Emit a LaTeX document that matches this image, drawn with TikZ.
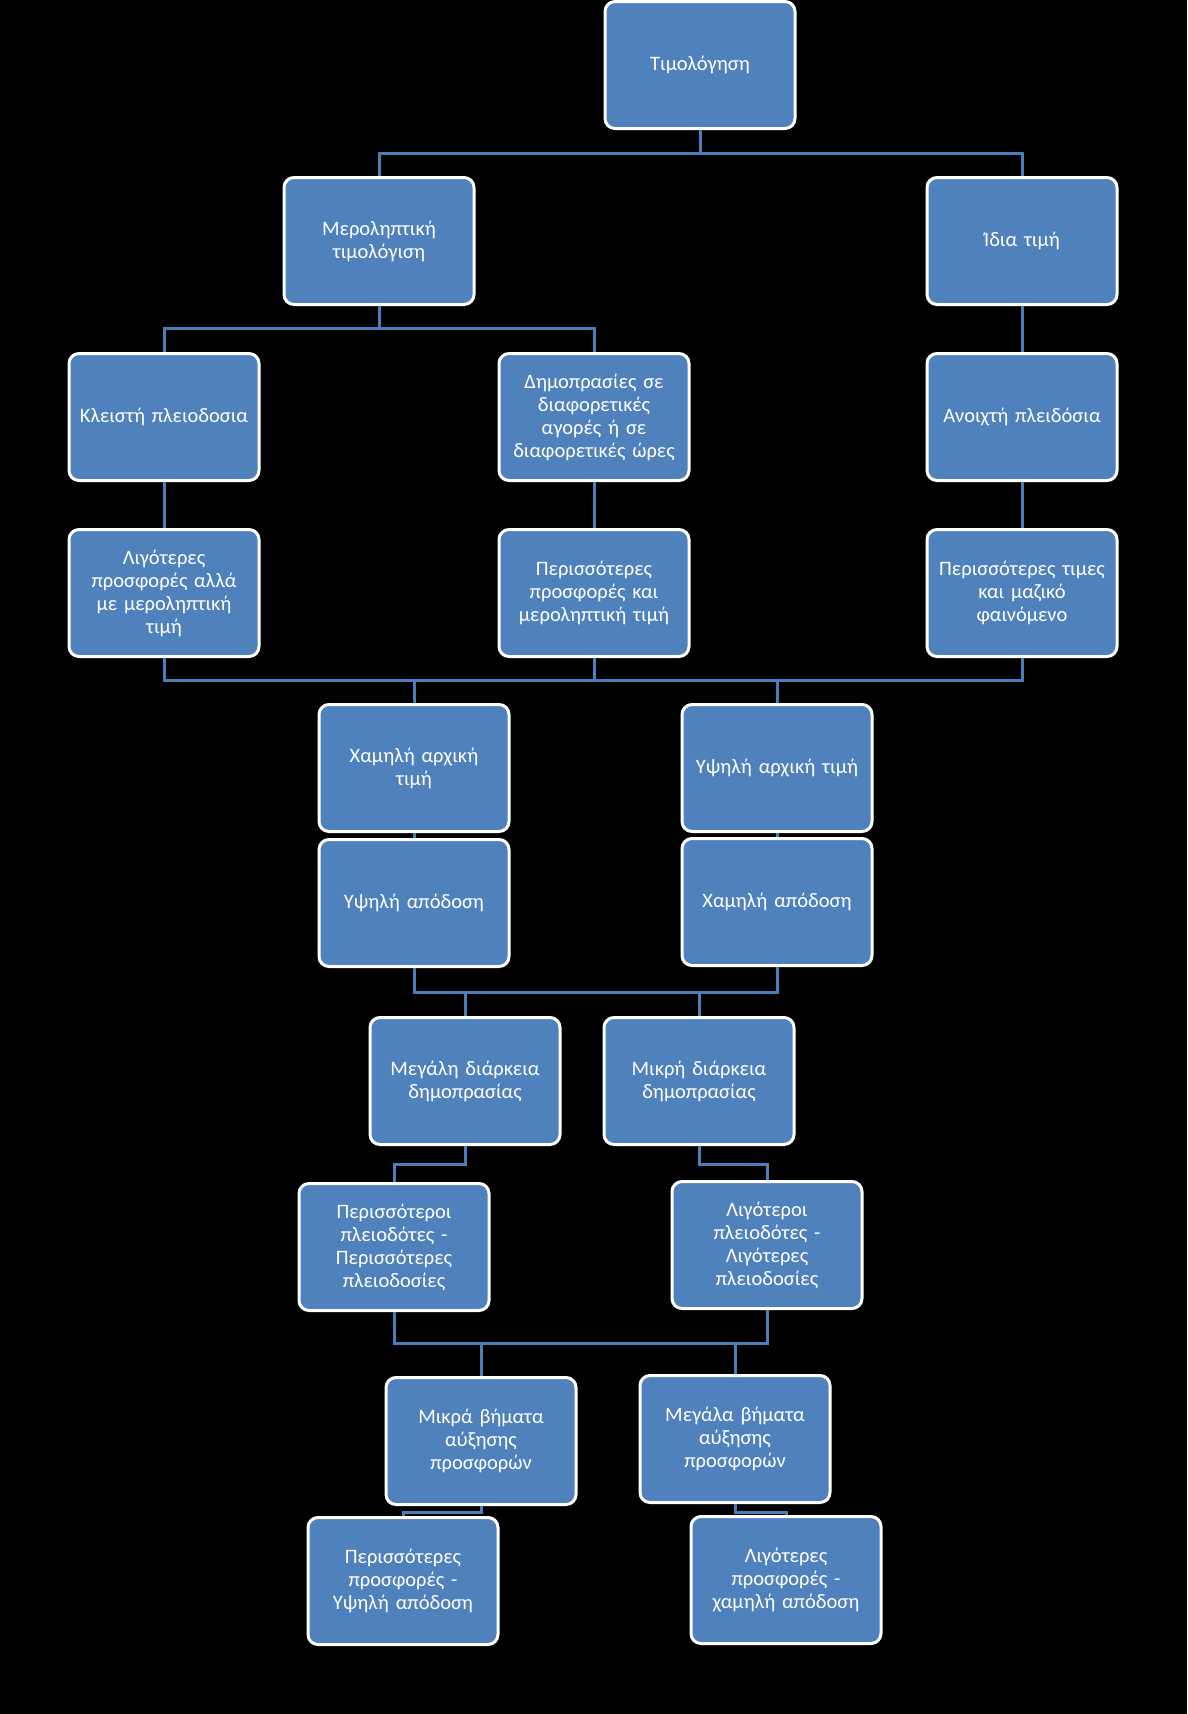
\documentclass[tikz,border=0pt]{standalone}
\usepackage{fontspec}
\setmainfont{Carlito}
\usetikzlibrary{positioning}

\definecolor{boxblue}{HTML}{4F81BD}
\definecolor{linkblue}{HTML}{4A7EBB}

\tikzset{
  box/.style={draw=white, line width=3pt, fill=boxblue, rounded corners=10pt,
    minimum width=190pt, minimum height=127pt, text width=182pt, align=center,
    text=white, font=\fontsize{20.5}{23}\selectfont, inner sep=2pt},
  link/.style={draw=linkblue, line width=3pt}
}

\begin{document}
\begin{tikzpicture}[x=1pt,y=-1pt]
\fill[black] (0,0) rectangle (1187,1714);
\useasboundingbox (0,0) rectangle (1187,1714);

\node[box] (tim) at (700,65) {Τιμολόγηση};
\node[box] (mer) at (379,241) {Μεροληπτική\\τιμολόγιση};
\node[box] (idia) at (1022,241) {Ίδια τιμή};
\node[box] (kleis) at (164,417) {Κλειστή πλειοδοσια};
\node[box] (dimo) at (594,417) {Δημοπρασίες σε\\διαφορετικές\\αγορές ή σε\\διαφορετικές ώρες};
\node[box] (anoix) at (1022,417) {Ανοιχτή πλειδόσια};
\node[box] (ligprosf) at (164,593) {Λιγότερες\\προσφορές αλλά\\με μεροληπτική\\τιμή};
\node[box] (perprosf) at (594,593) {Περισσότερες\\προσφορές και\\μεροληπτική τιμή};
\node[box] (pertimes) at (1022,593) {Περισσότερες τιμες\\και μαζικό\\φαινόμενο};
\node[box] (xamarx) at (414,768) {Χαμηλή αρχική\\τιμή};
\node[box] (ypsarx) at (777,768) {Υψηλή αρχική τιμή};
\node[box] (ypsapod) at (414,903) {Υψηλή απόδοση};
\node[box] (xamapod) at (777,902) {Χαμηλή απόδοση};
\node[box] (megdiark) at (465,1081) {Μεγάλη διάρκεια\\δημοπρασίας};
\node[box] (mikdiark) at (699,1081) {Μικρή διάρκεια\\δημοπρασίας};
\node[box] (perpleio) at (394,1247) {Περισσότεροι\\πλειοδότες -\\Περισσότερες\\πλειοδοσίες};
\node[box] (ligpleio) at (767,1245) {Λιγότεροι\\πλειοδότες -\\Λιγότερες\\πλειοδοσίες};
\node[box] (mikbim) at (481,1441) {Μικρά βήματα\\αύξησης\\προσφορών};
\node[box] (megbim) at (735,1439) {Μεγάλα βήματα\\αύξησης\\προσφορών};
\node[box] (perfin) at (403,1581) {Περισσότερες\\προσφορές -\\Υψηλή απόδοση};
\node[box] (ligfin) at (786,1580) {Λιγότερες\\προσφορές -\\χαμηλή απόδοση};

% junctions
\coordinate (j1) at (700,153);
\coordinate (j2) at (379,328);
\coordinate (j3) at (594,680);
\coordinate (j4) at (600,992);
\coordinate (j5) at (465,1164);
\coordinate (j6) at (699,1164);
\coordinate (j7) at (600,1343);
\coordinate (j8) at (481,1512);
\coordinate (j9) at (735,1512);

\path[link] (tim.south) -- (j1);
\path[link] (mer.north) |- (j1) -| (idia.north);
\path[link] (mer.south) -- (j2);
\path[link] (kleis.north) |- (j2) -| (dimo.north);
\path[link] (idia.south) -- (anoix.north);
\path[link] (kleis.south) -- (ligprosf.north);
\path[link] (dimo.south) -- (perprosf.north);
\path[link] (anoix.south) -- (pertimes.north);
\path[link] (ligprosf.south) |- (j3) -| (pertimes.south);
\path[link] (perprosf.south) -- (j3);
\path[link] (xamarx.north) |- (j3);
\path[link] (ypsarx.north) |- (j3);
\path[link] (xamarx.south) -- (ypsapod.north);
\path[link] (ypsarx.south) -- (xamapod.north);
\path[link] (ypsapod.south) |- (j4) -| (xamapod.south);
\path[link] (megdiark.north) |- (j4);
\path[link] (mikdiark.north) |- (j4);
\path[link] (megdiark.south) -- (j5) -| (perpleio.north);
\path[link] (mikdiark.south) -- (j6) -| (ligpleio.north);
\path[link] (perpleio.south) |- (j7) -| (ligpleio.south);
\path[link] (mikbim.north) |- (j7);
\path[link] (megbim.north) |- (j7);
\path[link] (mikbim.south) -- (j8) -| (perfin.north);
\path[link] (megbim.south) -- (j9) -| (ligfin.north);
\end{tikzpicture}
\end{document}
